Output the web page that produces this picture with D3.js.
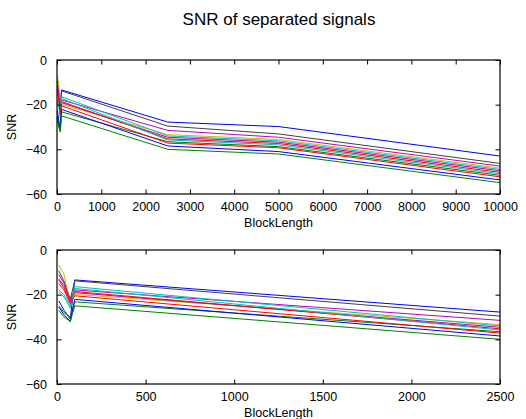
<!DOCTYPE html>
<html>
<head>
<meta charset="utf-8">
<script src="https://cdn.jsdelivr.net/npm/d3@7"></script>
<style>
  html, body { margin: 0; padding: 0; background: #fff; }
  svg { display: block; font-family: "Liberation Sans", Arial, sans-serif; }
  .tick text { font-size: 12.5px; fill: #000; }
</style>
</head>
<body>
<div id="chart"></div>
<script>
/* Block lengths at which the SNR was measured. */
const blockLength = [10, 40, 75, 100, 2500, 5000, 10000];

/* SNR of each separated signal (dB), one array per signal. */
const snrSig1 = [-22.8, -27.0, -31.0, -13.4, -27.8, -29.8, -43.0];
const snrSig2 = [-9.3, -14.0, -22.0, -13.8, -29.6, -33.1, -46.3];
const snrSig3 = [-13.0, -16.0, -22.0, -17.9, -31.5, -34.6, -47.5];
const snrSig4 = [-6.7, -11.0, -24.0, -19.9, -33.4, -35.6, -48.4];
const snrSig5 = [-18.0, -20.0, -25.0, -16.4, -34.0, -36.2, -49.0];
const snrSig6 = [-11.0, -15.0, -23.0, -19.1, -34.6, -36.8, -49.6];
const snrSig7 = [-13.5, -17.0, -23.0, -18.6, -35.3, -37.4, -50.3];
const snrSig8 = [-19.0, -21.0, -26.0, -17.2, -35.8, -38.0, -50.9];
const snrSig9 = [-25.0, -28.0, -30.0, -23.2, -36.6, -38.8, -51.6];
const snrSig10 = [-15.0, -18.0, -24.0, -20.5, -37.2, -39.3, -52.3];
const snrSig11 = [-25.5, -29.0, -32.0, -22.1, -38.5, -41.0, -53.7];
const snrSig12 = [-27.0, -30.0, -32.0, -25.0, -40.0, -42.1, -54.9];

const series = [snrSig1, snrSig2, snrSig3, snrSig4, snrSig5, snrSig6,
  snrSig7, snrSig8, snrSig9, snrSig10, snrSig11, snrSig12];

/* Matlab-style line colours for each signal. */
const lineColors = ['#0000ff', '#404040', '#bf00bf', '#bfbf00', '#00bfbf', '#bf00bf',
  '#ff0000', '#00bfbf', '#008000', '#ff0000', '#0000ff', '#008000'];

const yTicks = [0, -20, -40, -60];
const xTicksTop = [0, 1000, 2000, 3000, 4000, 5000, 6000, 7000, 8000, 9000, 10000];
const xTicksBottom = [0, 500, 1000, 1500, 2000, 2500];

const width = 526;
const height = 419;

const svg = d3.select('#chart').append('svg')
  .attr('width', width)
  .attr('height', height);

svg.append('text')
  .attr('x', 279)
  .attr('y', 25)
  .attr('text-anchor', 'middle')
  .style('font-size', '17px')
  .text('SNR of separated signals');

/* Draw one subplot inside the given box. */
function drawPanel(id, box, xMax, xTicks) {
  const w = box.right - box.left;
  const h = box.bottom - box.top;

  const x = d3.scaleLinear().domain([0, xMax]).range([0, w]);
  const y = d3.scaleLinear().domain([-60, 0]).range([h, 0]);

  const g = svg.append('g')
    .attr('transform', `translate(${box.left}, ${box.top})`);

  g.append('clipPath')
    .attr('id', `clip-${id}`)
    .append('rect')
    .attr('width', w)
    .attr('height', h);

  const line = d3.line()
    .x((d, i) => x(blockLength[i]))
    .y((d) => y(d));

  g.append('g')
    .attr('clip-path', `url(#clip-${id})`)
    .selectAll('path')
    .data(series)
    .enter()
    .append('path')
    .attr('d', line)
    .attr('fill', 'none')
    .attr('stroke', (d, i) => lineColors[i])
    .attr('stroke-width', 1);

  const tl = 4.5;
  const styleAxis = (sel) => {
    sel.select('.domain').remove();
    sel.selectAll('.tick line').attr('stroke', '#000');
  };

  g.append('g')
    .attr('transform', `translate(0, ${h})`)
    .call(d3.axisBottom(x).tickValues(xTicks).tickFormat(d3.format('d'))
      .tickSizeInner(-tl).tickSizeOuter(0).tickPadding(8))
    .call(styleAxis);

  g.append('g')
    .call(d3.axisTop(x).tickValues(xTicks).tickFormat('')
      .tickSizeInner(-tl).tickSizeOuter(0))
    .call(styleAxis);

  g.append('g')
    .call(d3.axisLeft(y).tickValues(yTicks).tickFormat(d3.format('d'))
      .tickSizeInner(-tl).tickSizeOuter(0).tickPadding(10))
    .call(styleAxis);

  g.append('g')
    .attr('transform', `translate(${w}, 0)`)
    .call(d3.axisRight(y).tickValues(yTicks).tickFormat('')
      .tickSizeInner(-tl).tickSizeOuter(0))
    .call(styleAxis);

  g.append('rect')
    .attr('width', w)
    .attr('height', h)
    .attr('fill', 'none')
    .attr('stroke', '#000')
    .attr('stroke-width', 1.2);

  g.append('text')
    .attr('x', w / 2)
    .attr('y', h + 33)
    .attr('text-anchor', 'middle')
    .style('font-size', '12.5px')
    .text('BlockLength');

  g.append('text')
    .attr('transform', `translate(${-41}, ${h / 2}) rotate(-90)`)
    .attr('text-anchor', 'middle')
    .style('font-size', '12.5px')
    .text('SNR');
}

drawPanel('top', {left: 57, right: 500, top: 60, bottom: 194}, 10000, xTicksTop);
drawPanel('bottom', {left: 57, right: 500, top: 250, bottom: 384}, 2500, xTicksBottom);
</script>
</body>
</html>
